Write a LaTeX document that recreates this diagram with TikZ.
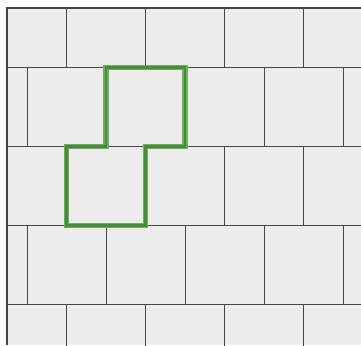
\documentclass[tikz,border=0pt]{standalone}
\definecolor{brickfill}{RGB}{236,236,236}
\definecolor{brickline}{RGB}{70,70,70}
\definecolor{frameline}{RGB}{68,68,68}
\definecolor{greenouter}{RGB}{112,172,98}
\definecolor{greeninner}{RGB}{72,140,58}
\begin{document}
\begin{tikzpicture}[x=1pt,y=-1pt,
  brickedge/.style={draw=brickline,line width=0.7pt},
  frame/.style={draw=frameline,line width=2pt},
  outlineouter/.style={draw=greenouter,line width=5.5pt,line join=miter},
  outlineinner/.style={draw=greeninner,line width=2.8pt,line join=miter}]
\useasboundingbox (0,0) rectangle (361,345);
\fill[white] (0,0) rectangle (361,345);
\begin{scope}
  \clip (7,8) rectangle (361,345);
  \fill[brickfill] (7,8) rectangle (361,345);
  % horizontal joints
  \foreach \k in {0,1,2,3}{
    \draw[brickedge] (7,{67.5+79*\k}) -- (361,{67.5+79*\k});
  }
  % vertical joints: even rows
  \foreach \r in {-1,1,3}{
    \foreach \j in {0,...,4}{
      \draw[brickedge] ({66.7+79*\j},{67.5+79*\r}) -- ({66.7+79*\j},{67.5+79*(\r+1)});
    }
  }
  % vertical joints: offset rows
  \foreach \r in {0,2}{
    \foreach \j in {0,...,4}{
      \draw[brickedge] ({27.3+79*\j},{67.5+79*\r}) -- ({27.3+79*\j},{67.5+79*(\r+1)});
    }
  }
\end{scope}
% frame
\draw[frame] (7,345) -- (7,8) -- (361,8);
% green outline
\coordinate (g1) at (106,67.5);
\coordinate (g2) at (185,67.5);
\coordinate (g3) at (185,146.5);
\coordinate (g4) at (145.5,146.5);
\coordinate (g5) at (145.5,225.5);
\coordinate (g6) at (66.7,225.5);
\coordinate (g7) at (66.7,146.5);
\coordinate (g8) at (106,146.5);
\draw[outlineouter] (g1) -- (g2) -- (g3) -- (g4) -- (g5) -- (g6) -- (g7) -- (g8) -- cycle;
\draw[outlineinner] (g1) -- (g2) -- (g3) -- (g4) -- (g5) -- (g6) -- (g7) -- (g8) -- cycle;
\end{tikzpicture}
\end{document}
